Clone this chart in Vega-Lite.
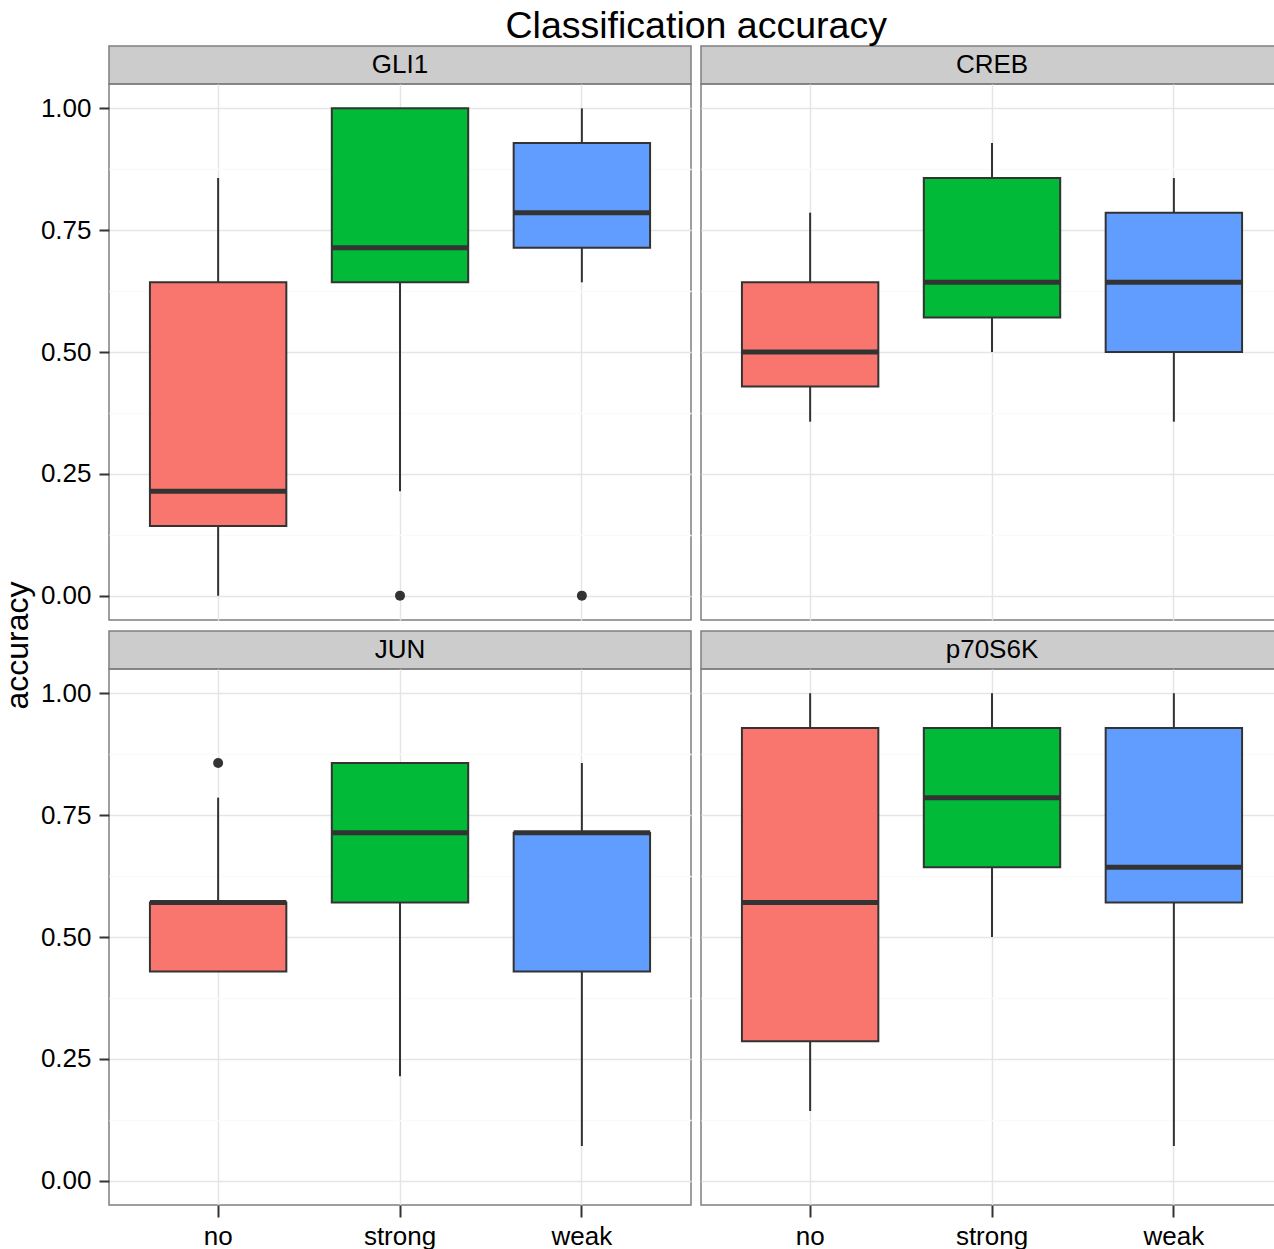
{
  "$schema": "https://vega.github.io/schema/vega-lite/v6.json",
  "title": {"text": "Classification accuracy", "fontSize": 37.5, "fontWeight": "normal", "color": "#000000", "anchor": "middle", "offset": 0, "dx": 54, "font": "Liberation Sans"},
  "padding": {"left": 0, "top": 7, "right": 0, "bottom": 44},
  "bounds": "flush",
  "columns": 2,
  "spacing": {"row": 0, "column": 10},
  "datasets": {
    "genes": [{"gene": "GLI1"}, {"gene": "CREB"}, {"gene": "JUN"}, {"gene": "p70S6K"}],
    "boxes": [
      {"gene": "GLI1", "cond": "no", "lower": 0.0, "q1": 0.143, "median": 0.214, "q3": 0.643, "upper": 0.857},
      {"gene": "GLI1", "cond": "strong", "lower": 0.214, "q1": 0.643, "median": 0.714, "q3": 1.0, "upper": 1.0},
      {"gene": "GLI1", "cond": "weak", "lower": 0.643, "q1": 0.714, "median": 0.786, "q3": 0.929, "upper": 1.0},
      {"gene": "CREB", "cond": "no", "lower": 0.357, "q1": 0.429, "median": 0.5, "q3": 0.643, "upper": 0.786},
      {"gene": "CREB", "cond": "strong", "lower": 0.5, "q1": 0.571, "median": 0.643, "q3": 0.857, "upper": 0.929},
      {"gene": "CREB", "cond": "weak", "lower": 0.357, "q1": 0.5, "median": 0.643, "q3": 0.786, "upper": 0.857},
      {"gene": "JUN", "cond": "no", "lower": 0.429, "q1": 0.429, "median": 0.571, "q3": 0.571, "upper": 0.786},
      {"gene": "JUN", "cond": "strong", "lower": 0.214, "q1": 0.571, "median": 0.714, "q3": 0.857, "upper": 0.857},
      {"gene": "JUN", "cond": "weak", "lower": 0.071, "q1": 0.429, "median": 0.714, "q3": 0.714, "upper": 0.857},
      {"gene": "p70S6K", "cond": "no", "lower": 0.143, "q1": 0.286, "median": 0.571, "q3": 0.929, "upper": 1.0},
      {"gene": "p70S6K", "cond": "strong", "lower": 0.5, "q1": 0.643, "median": 0.786, "q3": 0.929, "upper": 1.0},
      {"gene": "p70S6K", "cond": "weak", "lower": 0.071, "q1": 0.571, "median": 0.643, "q3": 0.929, "upper": 1.0}
    ],
    "outliers": [
      {"gene": "GLI1", "cond": "strong", "value": 0.0},
      {"gene": "GLI1", "cond": "weak", "value": 0.0},
      {"gene": "JUN", "cond": "no", "value": 0.857}
    ]
  },
  "concat": [
    {"width": 582, "height": 38, "view": {"fill": "#CCCCCC", "stroke": "#7F7F7F", "strokeWidth": 1.5},
     "data": {"name": "genes"}, "transform": [{"filter": "datum.gene === 'GLI1'"}],
     "mark": {"type": "text", "fontSize": 26, "font": "Liberation Sans", "color": "#000000"},
     "encoding": {"text": {"field": "gene", "type": "nominal"}}},
    {"width": 574, "height": 38, "view": {"fill": "#CCCCCC", "stroke": "#7F7F7F", "strokeWidth": 1.5},
     "data": {"name": "genes"}, "transform": [{"filter": "datum.gene === 'CREB'"}],
     "mark": {"type": "text", "fontSize": 26, "font": "Liberation Sans", "color": "#000000", "dx": 4},
     "encoding": {"text": {"field": "gene", "type": "nominal"}}},
    {
      "width": 582, "height": 536,
      "view": {"stroke": "#7F7F7F", "strokeWidth": 1.5},
      "data": {"name": "boxes"},
      "transform": [{"filter": "datum.gene === 'GLI1'"}],
      "encoding": {
        "x": {"field": "cond", "type": "nominal", "title": null,
          "scale": {"domain": ["no", "strong", "weak"], "range": [0, 582], "paddingInner": 0.25, "paddingOuter": 0.225},
          "axis": {"bandPosition": 0.5, "grid": true, "labels": false, "ticks": false}}
      },
      "layer": [
        {"mark": {"type": "rule", "color": "#333333", "strokeWidth": 2},
         "encoding": {
           "y": {"field": "lower", "type": "quantitative",
             "scale": {"domain": [-0.05, 1.05], "nice": false, "zero": false},
             "axis": {"title": "accuracy", "titleFontSize": 32, "titleFontWeight": "normal", "titleColor": "#000000", "titleY": 561, "titlePadding": 6,
               "grid": true,
               "values": [0, 0.125, 0.25, 0.375, 0.5, 0.625, 0.75, 0.875, 1],
               "labelExpr": "datum.value * 4 % 1 === 0 ? format(datum.value, '.2f') : ''",
               "tickSize": 10, "labelPadding": 8,
               "tickOpacity": {"condition": {"test": "datum.value * 4 % 1 !== 0", "value": 0}, "value": 1},
               "gridColor": {"condition": {"test": "datum.value * 4 % 1 !== 0", "value": "#FAFAFA"}, "value": "#E5E5E5"}}},
           "y2": {"field": "upper"}}},
        {"mark": {"type": "bar", "stroke": "#333333", "strokeWidth": 2},
         "encoding": {
           "y": {"field": "q1", "type": "quantitative", "title": "accuracy"},
           "y2": {"field": "q3"},
           "color": {"field": "cond", "type": "nominal", "legend": null,
             "scale": {"domain": ["no", "strong", "weak"], "range": ["#F8766D", "#00BA38", "#619CFF"]}}}},
        {"mark": {"type": "tick", "color": "#333333", "thickness": 5, "size": 136.4, "opacity": 1},
         "encoding": {"y": {"field": "median", "type": "quantitative", "title": "accuracy"}}},
        {"data": {"name": "outliers"}, "transform": [{"filter": "datum.gene === 'GLI1'"}],
         "mark": {"type": "circle", "color": "#333333", "size": 100, "opacity": 1},
         "encoding": {"y": {"field": "value", "type": "quantitative", "title": "accuracy"}}}
      ]
    },
    {
      "width": 574, "height": 536,
      "view": {"stroke": "#7F7F7F", "strokeWidth": 1.5},
      "data": {"name": "boxes"},
      "transform": [{"filter": "datum.gene === 'CREB'"}],
      "encoding": {
        "x": {"field": "cond", "type": "nominal", "title": null,
          "scale": {"domain": ["no", "strong", "weak"], "range": [0, 582], "paddingInner": 0.25, "paddingOuter": 0.225},
          "axis": {"bandPosition": 0.5, "grid": true, "labels": false, "ticks": false}}
      },
      "layer": [
        {"mark": {"type": "rule", "color": "#333333", "strokeWidth": 2},
         "encoding": {
           "y": {"field": "lower", "type": "quantitative", "title": null,
             "scale": {"domain": [-0.05, 1.05], "nice": false, "zero": false},
             "axis": {"title": null, "labels": false, "ticks": false, "grid": true,
               "values": [0, 0.125, 0.25, 0.375, 0.5, 0.625, 0.75, 0.875, 1],
               "gridColor": {"condition": {"test": "datum.value * 4 % 1 !== 0", "value": "#FAFAFA"}, "value": "#E5E5E5"}}},
           "y2": {"field": "upper"}}},
        {"mark": {"type": "bar", "stroke": "#333333", "strokeWidth": 2},
         "encoding": {
           "y": {"field": "q1", "type": "quantitative", "title": null},
           "y2": {"field": "q3"},
           "color": {"field": "cond", "type": "nominal", "legend": null,
             "scale": {"domain": ["no", "strong", "weak"], "range": ["#F8766D", "#00BA38", "#619CFF"]}}}},
        {"mark": {"type": "tick", "color": "#333333", "thickness": 5, "size": 136.4, "opacity": 1},
         "encoding": {"y": {"field": "median", "type": "quantitative", "title": null}}}
      ]
    },
    {"width": 582, "height": 11, "view": {"stroke": null}, "data": {"values": []}, "mark": {"type": "point", "opacity": 0}, "encoding": {}},
    {"width": 574, "height": 11, "view": {"stroke": null}, "data": {"values": []}, "mark": {"type": "point", "opacity": 0}, "encoding": {}},
    {"width": 582, "height": 38, "view": {"fill": "#CCCCCC", "stroke": "#7F7F7F", "strokeWidth": 1.5},
     "data": {"name": "genes"}, "transform": [{"filter": "datum.gene === 'JUN'"}],
     "mark": {"type": "text", "fontSize": 26, "font": "Liberation Sans", "color": "#000000"},
     "encoding": {"text": {"field": "gene", "type": "nominal"}}},
    {"width": 574, "height": 38, "view": {"fill": "#CCCCCC", "stroke": "#7F7F7F", "strokeWidth": 1.5},
     "data": {"name": "genes"}, "transform": [{"filter": "datum.gene === 'p70S6K'"}],
     "mark": {"type": "text", "fontSize": 26, "font": "Liberation Sans", "color": "#000000", "dx": 4},
     "encoding": {"text": {"field": "gene", "type": "nominal"}}},
    {
      "width": 582, "height": 536,
      "view": {"stroke": "#7F7F7F", "strokeWidth": 1.5},
      "data": {"name": "boxes"},
      "transform": [{"filter": "datum.gene === 'JUN'"}],
      "encoding": {
        "x": {"field": "cond", "type": "nominal", "title": null,
          "scale": {"domain": ["no", "strong", "weak"], "range": [0, 582], "paddingInner": 0.25, "paddingOuter": 0.225},
          "axis": {"bandPosition": 0.5, "grid": true, "labelAngle": 0, "tickSize": 12, "labelPadding": 6}}
      },
      "layer": [
        {"mark": {"type": "rule", "color": "#333333", "strokeWidth": 2},
         "encoding": {
           "y": {"field": "lower", "type": "quantitative", "title": null,
             "scale": {"domain": [-0.05, 1.05], "nice": false, "zero": false},
             "axis": {"title": null, "grid": true,
               "values": [0, 0.125, 0.25, 0.375, 0.5, 0.625, 0.75, 0.875, 1],
               "labelExpr": "datum.value * 4 % 1 === 0 ? format(datum.value, '.2f') : ''",
               "tickSize": 10, "labelPadding": 8,
               "tickOpacity": {"condition": {"test": "datum.value * 4 % 1 !== 0", "value": 0}, "value": 1},
               "gridColor": {"condition": {"test": "datum.value * 4 % 1 !== 0", "value": "#FAFAFA"}, "value": "#E5E5E5"}}},
           "y2": {"field": "upper"}}},
        {"mark": {"type": "bar", "stroke": "#333333", "strokeWidth": 2},
         "encoding": {
           "y": {"field": "q1", "type": "quantitative", "title": null},
           "y2": {"field": "q3"},
           "color": {"field": "cond", "type": "nominal", "legend": null,
             "scale": {"domain": ["no", "strong", "weak"], "range": ["#F8766D", "#00BA38", "#619CFF"]}}}},
        {"mark": {"type": "tick", "color": "#333333", "thickness": 5, "size": 136.4, "opacity": 1},
         "encoding": {"y": {"field": "median", "type": "quantitative", "title": null}}},
        {"data": {"name": "outliers"}, "transform": [{"filter": "datum.gene === 'JUN'"}],
         "mark": {"type": "circle", "color": "#333333", "size": 100, "opacity": 1},
         "encoding": {"y": {"field": "value", "type": "quantitative", "title": null}}}
      ]
    },
    {
      "width": 574, "height": 536,
      "view": {"stroke": "#7F7F7F", "strokeWidth": 1.5},
      "data": {"name": "boxes"},
      "transform": [{"filter": "datum.gene === 'p70S6K'"}],
      "encoding": {
        "x": {"field": "cond", "type": "nominal", "title": null,
          "scale": {"domain": ["no", "strong", "weak"], "range": [0, 582], "paddingInner": 0.25, "paddingOuter": 0.225},
          "axis": {"bandPosition": 0.5, "grid": true, "labelAngle": 0, "tickSize": 12, "labelPadding": 6}}
      },
      "layer": [
        {"mark": {"type": "rule", "color": "#333333", "strokeWidth": 2},
         "encoding": {
           "y": {"field": "lower", "type": "quantitative", "title": null,
             "scale": {"domain": [-0.05, 1.05], "nice": false, "zero": false},
             "axis": {"title": null, "labels": false, "ticks": false, "grid": true,
               "values": [0, 0.125, 0.25, 0.375, 0.5, 0.625, 0.75, 0.875, 1],
               "gridColor": {"condition": {"test": "datum.value * 4 % 1 !== 0", "value": "#FAFAFA"}, "value": "#E5E5E5"}}},
           "y2": {"field": "upper"}}},
        {"mark": {"type": "bar", "stroke": "#333333", "strokeWidth": 2},
         "encoding": {
           "y": {"field": "q1", "type": "quantitative", "title": null},
           "y2": {"field": "q3"},
           "color": {"field": "cond", "type": "nominal", "legend": null,
             "scale": {"domain": ["no", "strong", "weak"], "range": ["#F8766D", "#00BA38", "#619CFF"]}}}},
        {"mark": {"type": "tick", "color": "#333333", "thickness": 5, "size": 136.4, "opacity": 1},
         "encoding": {"y": {"field": "median", "type": "quantitative", "title": null}}}
      ]
    }
  ],
  "config": {
    "font": "Liberation Sans",
    "view": {"stroke": "#7F7F7F", "strokeWidth": 1.5},
    "axis": {"domain": false, "gridColor": "#E5E5E5", "gridWidth": 1.5, "labelFont": "Liberation Sans", "labelFontSize": 26, "labelColor": "#000000", "tickColor": "#333333", "tickWidth": 2, "labelOverlap": false, "titleFont": "Liberation Sans"}
  }
}
